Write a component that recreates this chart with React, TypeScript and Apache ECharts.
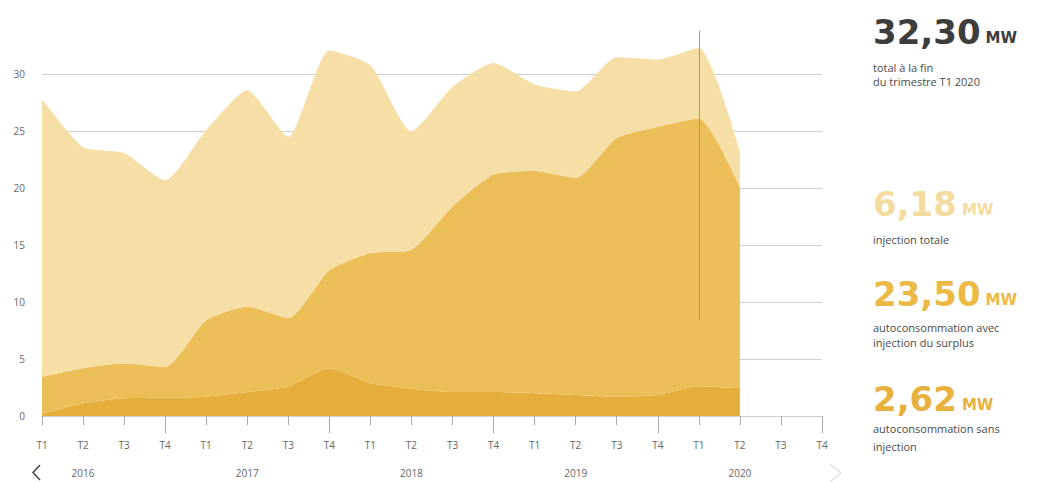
import React, { useEffect, useRef } from "react";
import * as echarts from "echarts";

// Quarterly axis: T1..T4 for each year
const years = ["2016", "2017", "2018", "2019", "2020"];
const quarters = ["T1", "T2", "T3", "T4"];
const categories = years.flatMap((y) => quarters.map((q) => `${q} ${y}`));

// Installed capacity per quarter, MW (stacked from bottom to top)
const autoSansInjection = [0.2, 1.1, 1.55, 1.6, 1.7, 2.1, 2.6, 4.2, 2.9, 2.4, 2.1, 2.1, 2.0, 1.85, 1.7, 1.85, 2.62, 2.45];
const autoAvecSurplus = [3.25, 3.1, 3.05, 2.7, 6.7, 7.5, 6.0, 8.6, 11.4, 12.2, 16.3, 19.1, 19.5, 19.05, 22.7, 23.55, 23.5, 17.65];
const injectionTotale = [24.35, 19.4, 18.5, 16.4, 16.7, 19.0, 15.9, 19.3, 16.5, 10.4, 10.5, 9.8, 7.6, 7.6, 7.1, 5.9, 6.18, 3.1];

// Highlighted quarter and its summary figures
const focusIndex = 16;
const totalLabel = "32,30";
const totalCaption = ["total à la fin", "du trimestre T1 2020"];
const summary = [
  { value: "6,18", lines: ["injection totale"] },
  { value: "23,50", lines: ["autoconsommation avec", "injection du surplus"] },
  { value: "2,62", lines: ["autoconsommation sans", "injection"] },
];

const yTicks = [0, 5, 10, 15, 20, 25, 30];

const COLORS = {
  light: "#F6DFA6",
  mid: "#EBBE58",
  dark: "#E5AE3C",
  lightText: "#F4DCA0",
  midText: "#EBB944",
  darkText: "#E8B13D",
};

const BIG_FONT = "bold 34px 'DejaVu Sans'";
const UNIT_FONT = "bold 15px 'DejaVu Sans'";

function measure(text: string, font: string): number {
  const c = document.createElement("canvas").getContext("2d");
  if (!c) return text.length * 20;
  c.font = font;
  return c.measureText(text).width;
}

export default function App() {
  const ref = useRef<HTMLDivElement>(null);

  useEffect(() => {
    if (!ref.current) return;
    const chart = echarts.init(ref.current, undefined, { renderer: "svg" });

    const smallText = {
      fontFamily: "'Open Sans'",
      fontSize: 11,
      fill: "#4a4a4a",
    };

    // Big figure followed by its unit, both sitting on the same baseline
    const bigNumber = (x: number, top: number, value: string, color: string) => {
      const w = measure(value, BIG_FONT);
      return [
        {
          type: "text",
          x,
          y: top,
          style: { text: value, font: BIG_FONT, fill: color, verticalAlign: "top" },
        },
        {
          type: "text",
          x: x + w + 5,
          y: top + 15.5,
          style: { text: "MW", font: UNIT_FONT, fill: color, verticalAlign: "top" },
        },
      ];
    };

    const caption = (x: number, y: number, text: string) => ({
      type: "text",
      x,
      y,
      style: { ...smallText, text, verticalAlign: "middle" },
    });

    const summaryColors = [COLORS.lightText, COLORS.midText, COLORS.darkText];
    const summaryTops = [187, 277, 382];
    const summaryLineY = [[239], [327, 342], [428, 446]];

    const graphics: any[] = [
      ...bigNumber(873, 15, totalLabel, "#3d3d3d"),
      caption(873, 67, totalCaption[0]),
      caption(873, 81, totalCaption[1]),
      // paging arrows under the axis
      {
        type: "polyline",
        shape: { points: [[40, 465], [33, 472.5], [40, 480]] },
        style: { stroke: "#444", lineWidth: 1.5, fill: "none" },
      },
      {
        type: "polyline",
        shape: { points: [[830, 464], [841, 473], [830, 482]] },
        style: { stroke: "#dddddd", lineWidth: 1.2, fill: "none" },
      },
    ];

    summary.forEach((s, i) => {
      graphics.push(...bigNumber(873, summaryTops[i], s.value, summaryColors[i]));
      s.lines.forEach((line, j) => {
        graphics.push(caption(873, summaryLineY[i][j], line));
      });
    });

    const areaSeries = (name: string, data: number[], color: string, extra: any = {}) => ({
      name,
      type: "line",
      stack: "total",
      data,
      xAxisIndex: 0,
      smooth: 0.2,
      showSymbol: false,
      symbol: "none",
      lineStyle: { width: 0, opacity: 0 },
      areaStyle: { color, opacity: 1 },
      silent: true,
      ...extra,
    });

    chart.setOption({
      animation: false,
      backgroundColor: "#ffffff",
      grid: { left: 42, right: 222, top: 17.35, bottom: 66, containLabel: false },
      xAxis: [
        {
          type: "category",
          data: categories,
          boundaryGap: false,
          position: "bottom",
          axisLine: { show: true, lineStyle: { color: "#cccccc", width: 1 } },
          axisTick: { show: true, interval: 0, length: 9, lineStyle: { color: "#a8a8a8" } },
          axisLabel: {
            interval: 0,
            margin: 24,
            color: "#666",
            fontSize: 10,
            fontFamily: "'Open Sans'",
            formatter: (v: string) => v.split(" ")[0],
          },
          splitLine: { show: false },
        },
        {
          type: "category",
          data: categories,
          boundaryGap: false,
          position: "bottom",
          axisLine: { show: false },
          axisTick: {
            show: true,
            length: 17,
            interval: (i: number) => i % 4 === 3,
            lineStyle: { color: "#a8a8a8" },
          },
          axisLabel: {
            interval: 0,
            margin: 52,
            color: "#666",
            fontSize: 10,
            fontFamily: "'Open Sans'",
            formatter: (v: string, i: number) => (i % 4 === 1 ? v.split(" ")[1] : ""),
          },
          splitLine: { show: false },
        },
      ],
      yAxis: {
        type: "value",
        min: 0,
        max: 35,
        interval: 5,
        axisLine: { show: false },
        axisTick: { show: false },
        axisLabel: {
          margin: 17,
          color: "#666",
          fontSize: 10,
          fontFamily: "'Open Sans'",
          showMaxLabel: false,
          formatter: (v: number) => (yTicks.includes(v) ? String(v) : ""),
        },
        splitLine: {
          show: true,
          showMinLine: false,
          showMaxLine: false,
          lineStyle: { color: "#cfcfcf", width: 1 },
        },
      },
      series: [
        areaSeries("autoconsommation sans injection", autoSansInjection, COLORS.dark),
        areaSeries("autoconsommation avec injection du surplus", autoAvecSurplus, COLORS.mid),
        areaSeries("injection totale", injectionTotale, COLORS.light, {
          markLine: {
            silent: true,
            symbol: ["none", "none"],
            label: { show: false },
            lineStyle: { color: "#9a9a9a", width: 1, type: "solid" },
            data: [[{ coord: [categories[focusIndex], 33.8] }, { coord: [categories[focusIndex], 8.4] }]],
          },
        }),
      ],
      graphic: graphics,
    });

    return () => chart.dispose();
  }, []);

  return (
    <div
      ref={ref}
      style={{ position: "fixed", left: 0, top: 0, width: 1044, height: 482 }}
    />
  );
}
